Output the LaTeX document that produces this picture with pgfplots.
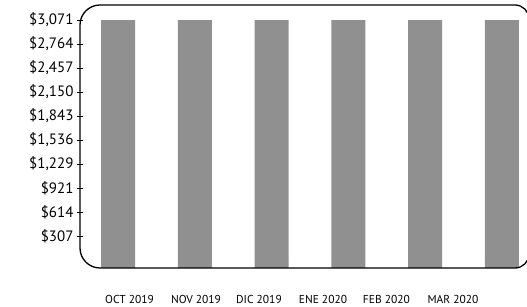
\documentclass[border=0pt]{standalone}
\usepackage{pgfplots}
\pgfplotsset{compat=1.18}
\usepackage{fontspec}
\setmainfont{PT Sans}
\definecolor{bargray}{HTML}{909090}
\begin{document}
\begin{tikzpicture}[x=1pt,y=1pt]
\useasboundingbox (0,0) rectangle (527,307);
\begin{axis}[
  at={(80pt,39pt)}, anchor=south west,
  scale only axis, width=449pt, height=263pt,
  xmin=-0.495, xmax=5.352,
  ymin=-102, ymax=3263,
  clip=false,
  axis line style={draw=none},
  xtick={0.150,1.016,1.836,2.669,3.496,4.362},
  xticklabels={OCT 2019,NOV 2019,DIC 2019,ENE 2020,FEB 2020,MAR 2020},
  xtick style={draw=none},
  xticklabel style={font=\fontsize{11.5}{13}\selectfont, yshift=-18pt},
  ytick={307.1,614.2,921.3,1228.4,1535.5,1842.6,2149.7,2456.8,2763.9,3071},
  yticklabels={{\$307},{\$614},{\$921},{\$1,229},{\$1,536},{\$1,843},{\$2,150},{\$2,457},{\$2,764},{\$3,071}},
  yticklabel style={font=\fontsize{15}{18}\selectfont},
  ytick pos=left,
  tick align=center,
  major tick length=6pt,
  ytick style={black, line width=0.9pt},
  ybar, bar width=34pt,
]
\addplot[fill=bargray, draw=none, bar shift=0pt] coordinates {(0,3071) (1,3071) (2,3071) (3,3071) (4,3071) (5,3071)};
\addplot[fill=bargray, draw=none, bar shift=0pt] coordinates {(0,-102) (1,-102) (2,-102) (3,-102) (4,-102) (5,-102)};
\draw[line width=1.3pt, black] (rel axis cs:0,0.5)
  [rounded corners=20pt] -- (rel axis cs:0,1)
  [rounded corners=14pt] -- (rel axis cs:1,1)
  -- (rel axis cs:1,0)
  [rounded corners=20pt] -- (rel axis cs:0,0)
  -- (rel axis cs:0,0.5);
\end{axis}
\end{tikzpicture}
\end{document}
